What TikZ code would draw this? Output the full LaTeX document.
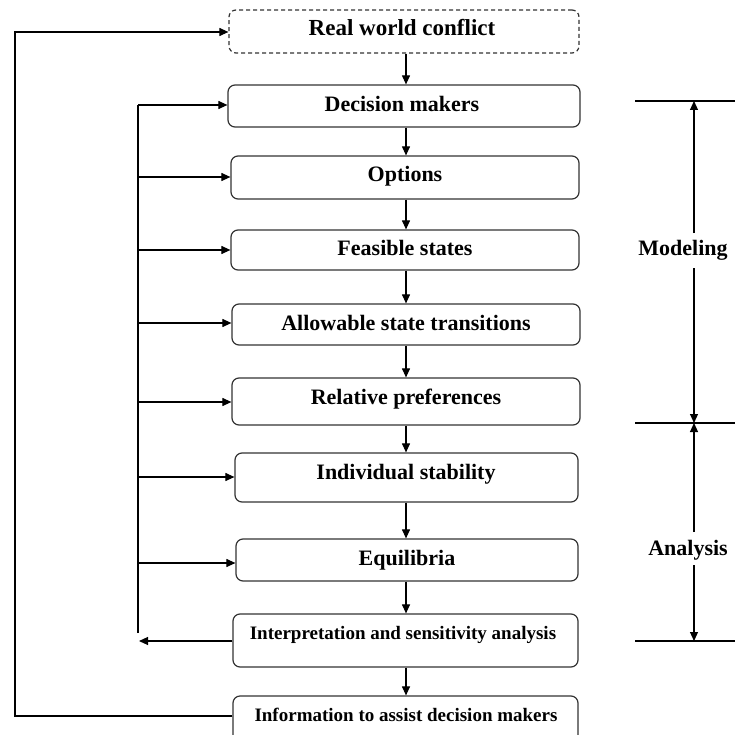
\documentclass[tikz,border=0pt]{standalone}
\usepackage{fontspec}
\setmainfont{Liberation Serif}
\usetikzlibrary{arrows.meta}
\begin{document}
\begin{tikzpicture}[x=1pt,y=-1pt,
  box/.style={draw=black!80, line width=1.2pt, rounded corners=7pt, inner sep=0pt},
  dbox/.style={box, dash pattern=on 4pt off 3pt},
  lbl/.style={anchor=base, inner sep=0pt, font=\bfseries\fontsize{22}{24}\selectfont},
  slbl/.style={anchor=base, inner sep=0pt, font=\bfseries\fontsize{19}{21}\selectfont},
  ln/.style={draw=black, line width=1.1pt},
  arr/.style={ln, -{Triangle[length=9pt,width=8pt]}},
  darr/.style={ln, {Triangle[length=9pt,width=8pt]}-{Triangle[length=9pt,width=8pt]}}
]
\useasboundingbox (0,0) rectangle (735,735);
\clip (0,0) rectangle (735,735);
% boxes
\node[dbox, minimum width=350pt, minimum height=43pt] (rw) at (404,31.5) {};
\node[box, minimum width=352pt, minimum height=42pt] (dm) at (404,106) {};
\node[box, minimum width=348pt, minimum height=43pt] (op) at (405,177.5) {};
\node[box, minimum width=348pt, minimum height=40pt] (fs) at (405,250) {};
\node[box, minimum width=348pt, minimum height=41pt] (al) at (406,324.5) {};
\node[box, minimum width=348pt, minimum height=47pt] (rp) at (406,401.5) {};
\node[box, minimum width=343pt, minimum height=49pt] (is) at (406.5,477.5) {};
\node[box, minimum width=342pt, minimum height=42pt] (eq) at (407,560) {};
\node[box, minimum width=345pt, minimum height=53pt] (in) at (405.5,640.5) {};
\node[box, minimum width=345pt, minimum height=64pt] (inf) at (405.5,728) {};
% labels
\node[lbl, font=\bfseries\fontsize{23}{25}\selectfont] (rwT) at (402,36) {Real world conflict};
\node[lbl] (dmT) at (402,112) {Decision makers};
\node[lbl] (opT) at (405,182) {Options};
\node[lbl] (fsT) at (405,255) {Feasible states};
\node[lbl] (alT) at (406,330) {Allowable state transitions};
\node[lbl] (rpT) at (406,404) {Relative preferences};
\node[lbl] (isT) at (406,479) {Individual stability};
\node[lbl] (eqT) at (407,565) {Equilibria};
\node[slbl] (inT) at (403,639) {Interpretation and sensitivity analysis};
\node[slbl] (infT) at (406,721) {Information to assist decision makers};
% vertical flow
\coordinate (col) at (406,0);
\draw[arr] (rw.south -| col) -- (dm.north -| col);
\draw[arr] (dm.south -| col) -- (op.north -| col);
\draw[arr] (op.south -| col) -- (fs.north -| col);
\draw[arr] (fs.south -| col) -- (al.north -| col);
\draw[arr] (al.south -| col) -- (rp.north -| col);
\draw[arr] (rp.south -| col) -- (is.north -| col);
\draw[arr] (is.south -| col) -- (eq.north -| col);
\draw[arr] (eq.south -| col) -- (in.north -| col);
\draw[arr] (in.south -| col) -- (inf.north -| col);
% inner feedback spine
\coordinate (s1) at (138,105);
\coordinate (s2) at (138,177);
\coordinate (s3) at (138,250);
\coordinate (s4) at (138,323);
\coordinate (s5) at (138,402);
\coordinate (s6) at (138,477);
\coordinate (s7) at (138,563);
\coordinate (sb) at (138,633);
\coordinate (ret) at (139,641);
\draw[ln] (sb) -- (s1);
\draw[arr] (s1) -- (s1 -| dm.west);
\draw[arr] (s2) -- (s2 -| op.west);
\draw[arr] (s3) -- (s3 -| fs.west);
\draw[arr] (s4) -- (s4 -| al.west);
\draw[arr] (s5) -- (s5 -| rp.west);
\draw[arr] (s6) -- (s6 -| is.west);
\draw[arr] (s7) -- (s7 -| eq.west);
\draw[arr] (ret -| in.west) -- (ret);
% outer feedback
\coordinate (o1) at (15,716);
\coordinate (o2) at (15,32);
\draw[arr] (o1 -| inf.west) -- (o1) -- (o2) -- (o2 -| rw.west);
% right side phases
\coordinate (h1) at (635,101);
\coordinate (h2) at (635,423);
\coordinate (h3) at (635,641);
\coordinate (ha) at (735,0);
\draw[ln] (h1) -- (h1 -| ha);
\draw[ln] (h2) -- (h2 -| ha);
\draw[ln] (h3) -- (h3 -| ha);
\node[lbl] (mod) at (683,255) {Modeling};
\node[lbl] (ana) at (688,555) {Analysis};
\coordinate (v) at (694,0);
\coordinate (m1) at (694,233);
\coordinate (m2) at (694,268);
\coordinate (a1) at (694,532);
\coordinate (a2) at (694,565);
\draw[arr] (m1) -- (h1 -| v);
\draw[arr] (m2) -- (h2 -| v);
\draw[arr] (a1) -- (h2 -| v);
\draw[arr] (a2) -- (h3 -| v);
\end{tikzpicture}
\end{document}
